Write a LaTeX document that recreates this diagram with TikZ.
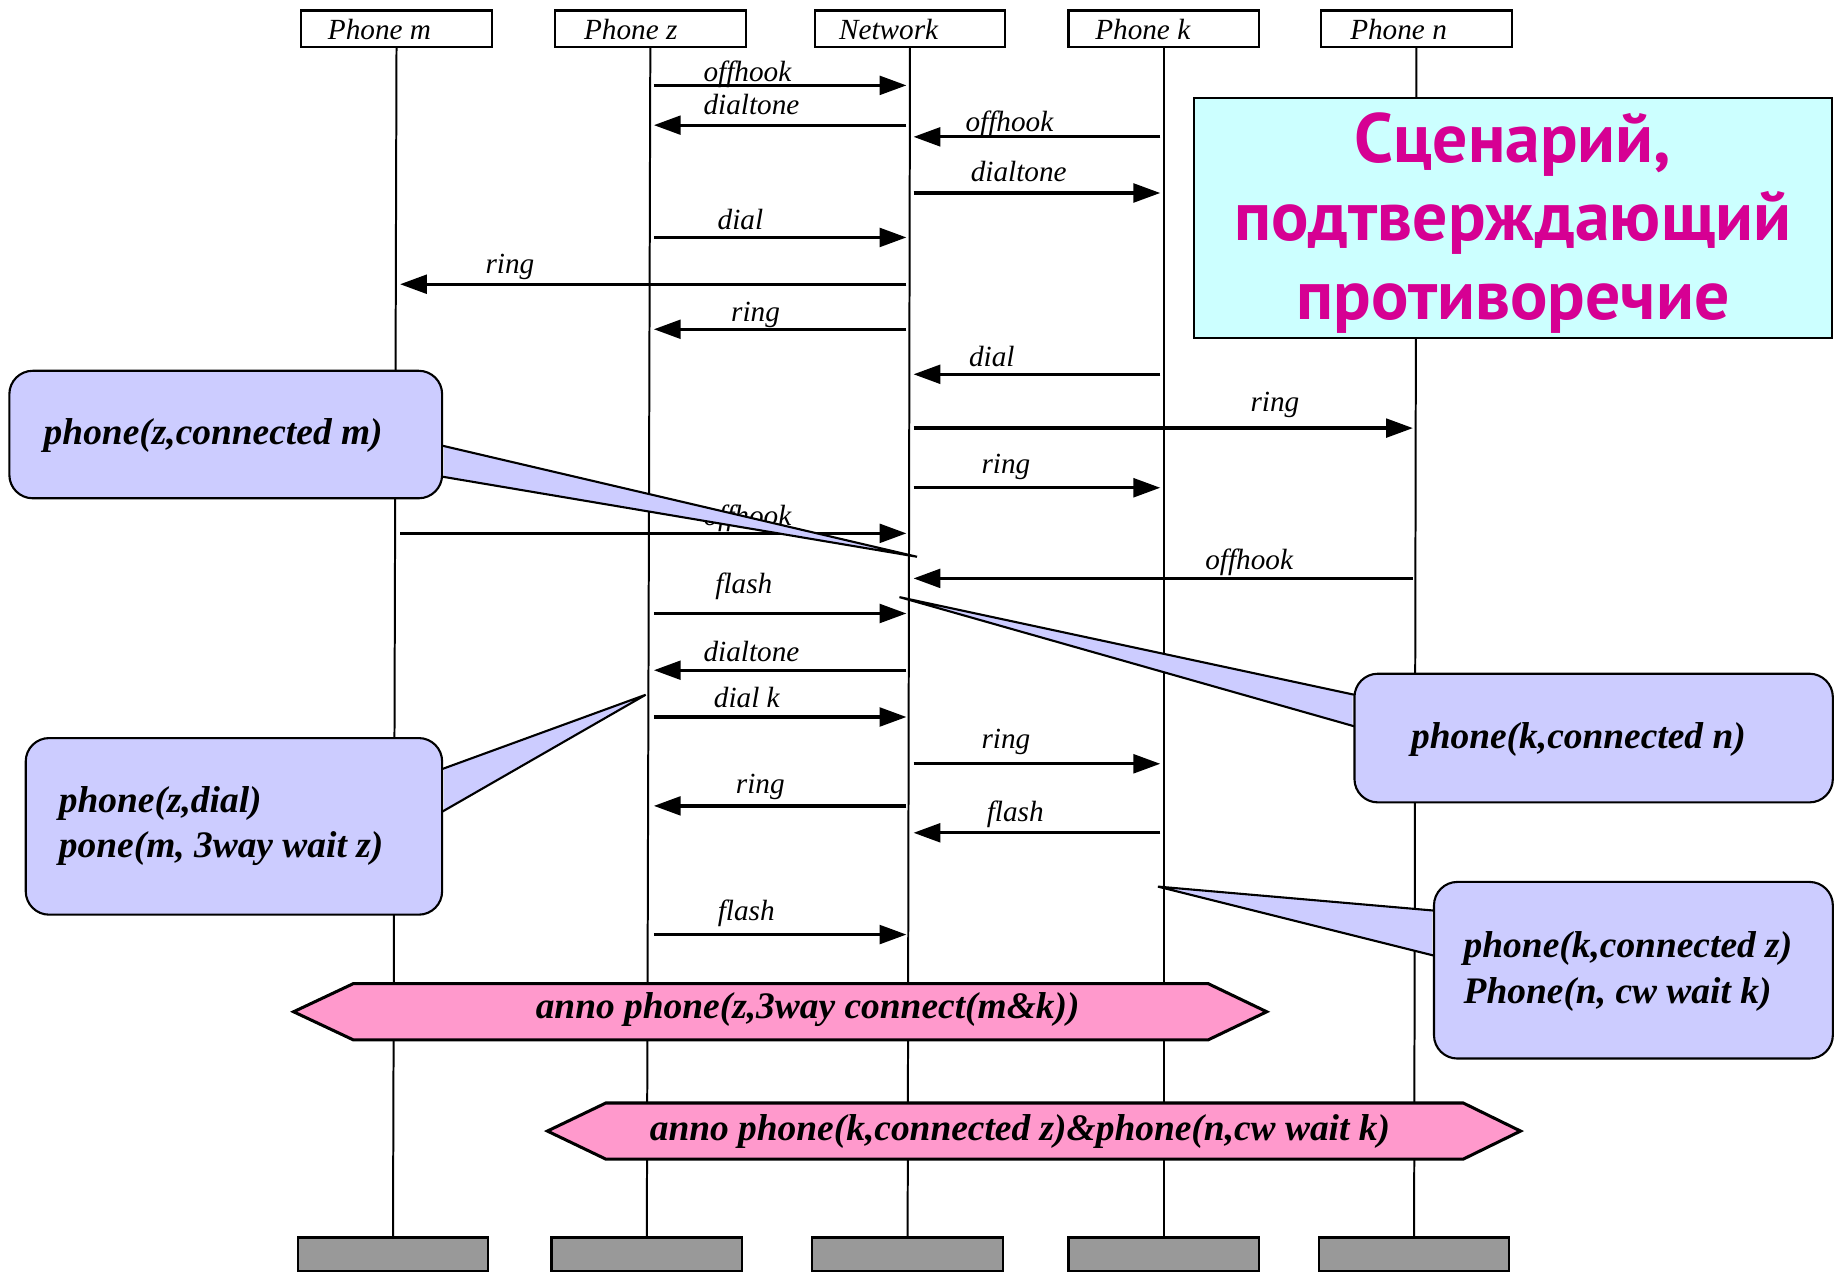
\documentclass[tikz,border=0pt]{standalone}
\usepackage{fontspec}
\setmainfont{Liberation Serif}
\newfontfamily\titlefont{PT Sans}
\usetikzlibrary{arrows.meta}
\definecolor{callfill}{HTML}{CCCCFF}
\definecolor{titlefill}{HTML}{CCFFFF}
\definecolor{bannerfill}{HTML}{FF99CC}
\definecolor{barfill}{HTML}{999999}
\definecolor{titletext}{HTML}{D60093}
\begin{document}
\begin{tikzpicture}[x=0.5pt,y=-0.5pt,
  hdr/.style={draw, line width=0.9pt, minimum width=81.5pt, minimum height=15.5pt, inner sep=0pt},
  hdrtxt/.style={font=\fontsize{12.5pt}{14pt}\selectfont\itshape, anchor=base west, inner sep=0pt},
  bar/.style={draw, fill=barfill, line width=0.9pt, minimum width=81.5pt, minimum height=14.5pt, inner sep=0pt},
  life/.style={line width=0.85pt},
  msg/.style={line width=1.4pt, -{Triangle[length=11.5pt,width=8pt]}, shorten <=1.5pt, shorten >=1.5pt},
  lbl/.style={font=\fontsize{12.5pt}{14pt}\selectfont\itshape, anchor=base, inner sep=0pt},
  cbox/.style={draw, fill=callfill, line width=0.9pt, rounded corners=10pt, inner sep=0pt},
  cptr/.style={line width=0.9pt, line join=bevel},
  ctxt/.style={font=\fontsize{16pt}{19pt}\selectfont\bfseries\itshape, anchor=base west, inner sep=0pt},
  banner/.style={draw, fill=bannerfill, line width=1.3pt, line join=miter},
  btxt/.style={font=\fontsize{16pt}{19pt}\selectfont\bfseries\itshape, anchor=base, inner sep=0pt},
  titlebox/.style={draw, fill=titlefill, line width=0.9pt, minimum width=272.5pt, minimum height=102.5pt, inner sep=0pt},
  titletxt/.style={font=\titlefont\bfseries\fontsize{29.8pt}{33.5pt}\selectfont, text=titletext, align=center, inner sep=0pt}
]
\useasboundingbox (0,0) rectangle (1568,1088);

% headers
\node[hdr] (hm) at (339,24.5) {};
\node[hdr] (hz) at (556,24.5) {};
\node[hdr] (hw) at (778,24.5) {};
\node[hdr] (hk) at (995,24.5) {};
\node[hdr] (hn) at (1211,24.5) {};
\node[hdrtxt] (thm) at (280,33.5) {Phone m};
\node[hdrtxt] (thz) at (499,33.5) {Phone z};
\node[hdrtxt] (thw) at (717,33.5) {Network};
\node[hdrtxt] (thk) at (936,33.5) {Phone k};
\node[hdrtxt] (thn) at (1154,33.5) {Phone n};

% bottom bars
\node[bar] (bm) at (336,1072.5) {};
\node[bar] (bz) at (553,1072.5) {};
\node[bar] (bw) at (776,1072.5) {};
\node[bar] (bk) at (995,1072.5) {};
\node[bar] (bn) at (1209,1072.5) {};

% lifelines
\draw[life] (hm.south) -- (bm.north);
\draw[life] (hz.south) -- (bz.north);
\draw[life] (hw.south) -- (bw.north);
\draw[life] (hk.south) -- (bk.north);
\draw[life] (hn.south) -- (bn.north);

% messages
\draw[msg] (hz |- 0,73) -- (hw |- 0,73);
\node[lbl] (l1) at (639,70) {offhook};
\draw[msg] (hw |- 0,107) -- (hz |- 0,107);
\node[lbl] (l2) at (642.5,98) {dialtone};
\draw[msg] (hk |- 0,117) -- (hw |- 0,117);
\node[lbl] (l3) at (863,112.5) {offhook};
\draw[msg] (hw |- 0,165) -- (hk |- 0,165);
\node[lbl] (l4) at (871,155) {dialtone};
\draw[msg] (hz |- 0,203) -- (hw |- 0,203);
\node[lbl] (l5) at (633,196) {dial};
\draw[msg] (hw |- 0,243) -- (hm |- 0,243);
\node[lbl] (l6) at (436,234) {ring};
\draw[msg] (hw |- 0,281.5) -- (hz |- 0,281.5);
\node[lbl] (l7) at (646,275) {ring};
\draw[msg] (hk |- 0,320) -- (hw |- 0,320);
\node[lbl] (l8) at (848,313) {dial};
\draw[msg] (hw |- 0,366) -- (hn |- 0,366);
\node[lbl] (l9) at (1090,352) {ring};
\draw[msg] (hw |- 0,417) -- (hk |- 0,417);
\node[lbl] (l10) at (860,405) {ring};
\draw[msg] (hm |- 0,456) -- (hw |- 0,456);
\node[lbl] (l11) at (639,449) {offhook};
\draw[msg] (hn |- 0,494.5) -- (hw |- 0,494.5);
\node[lbl] (l12) at (1068,487) {offhook};
\draw[msg] (hz |- 0,524.5) -- (hw |- 0,524.5);
\node[lbl] (l13) at (636,507) {flash};
\draw[msg] (hw |- 0,573) -- (hz |- 0,573);
\node[lbl] (l14) at (642.5,565.5) {dialtone};
\draw[msg] (hz |- 0,613) -- (hw |- 0,613);
\node[lbl] (l15) at (638.5,605) {dial k};
\draw[msg] (hw |- 0,653) -- (hk |- 0,653);
\node[lbl] (l16) at (860,640) {ring};
\draw[msg] (hw |- 0,689) -- (hz |- 0,689);
\node[lbl] (l17) at (650,678) {ring};
\draw[msg] (hk |- 0,712) -- (hw |- 0,712);
\node[lbl] (l18) at (868,702) {flash};
\draw[msg] (hz |- 0,799) -- (hw |- 0,799);
\node[lbl] (l19) at (638,787) {flash};

% callout A
\node[cbox, minimum width=185pt, minimum height=54.5pt] (ca) at (193,371.5) {};
\fill[callfill] (379.5,381) -- (784,476) -- (379.5,407.5) -- cycle;
\draw[cptr] (378,381) -- (784,476) -- (378,407.5);
\node[ctxt] (ta) at (37,380) {phone(z,connected m)};

% callout B
\node[cbox, minimum width=178pt, minimum height=75.5pt] (cb) at (200,706.5) {};
\fill[callfill] (379.5,657.5) -- (552,594) -- (379.5,694) -- cycle;
\draw[cptr] (378,657.5) -- (552,594) -- (378,694);
\node[ctxt] (tb1) at (50,695) {phone(z,dial)};
\node[ctxt] (tb2) at (50,733) {pone(m, 3way wait z)};

% callout C
\node[cbox, minimum width=204.5pt, minimum height=55pt] (cc) at (1362.5,631) {};
\fill[callfill] (1156.5,594) -- (769,510.5) -- (1156.5,621) -- cycle;
\draw[cptr] (1158,594) -- (769,510.5) -- (1158,621);
\node[ctxt] (tc) at (1206,640) {phone(k,connected n)};

% callout D
\node[cbox, minimum width=170.5pt, minimum height=75.5pt] (cd) at (1396.5,829.5) {};
\fill[callfill] (1224.5,778.5) -- (990,758) -- (1224.5,817) -- cycle;
\draw[cptr] (1226,778.5) -- (990,758) -- (1226,817);
\node[ctxt] (td1) at (1251,819) {phone(k,connected z)};
\node[ctxt] (td2) at (1251,858) {Phone(n, cw wait k)};

% banners
\path[banner] (251,865) -- (302,841) -- (1033,841) -- (1083,865) -- (1033,889) -- (302,889) -- cycle;
\node[btxt] (be) at (690.5,871) {anno phone(z,3way connect(m\&k))};
\path[banner] (468,967) -- (518,943) -- (1251,943) -- (1300,967) -- (1251,991) -- (518,991) -- cycle;
\node[btxt] (bf) at (872,975) {anno phone(k,connected z)\&phone(n,cw wait k)};

% title
\node[titlebox] (tbox) at (1293.5,186.5) {};
\node[titletxt] (ttl) at (1293.5,190.5) {Сценарий,\\подтверждающий\\противоречие};
\end{tikzpicture}
\end{document}
